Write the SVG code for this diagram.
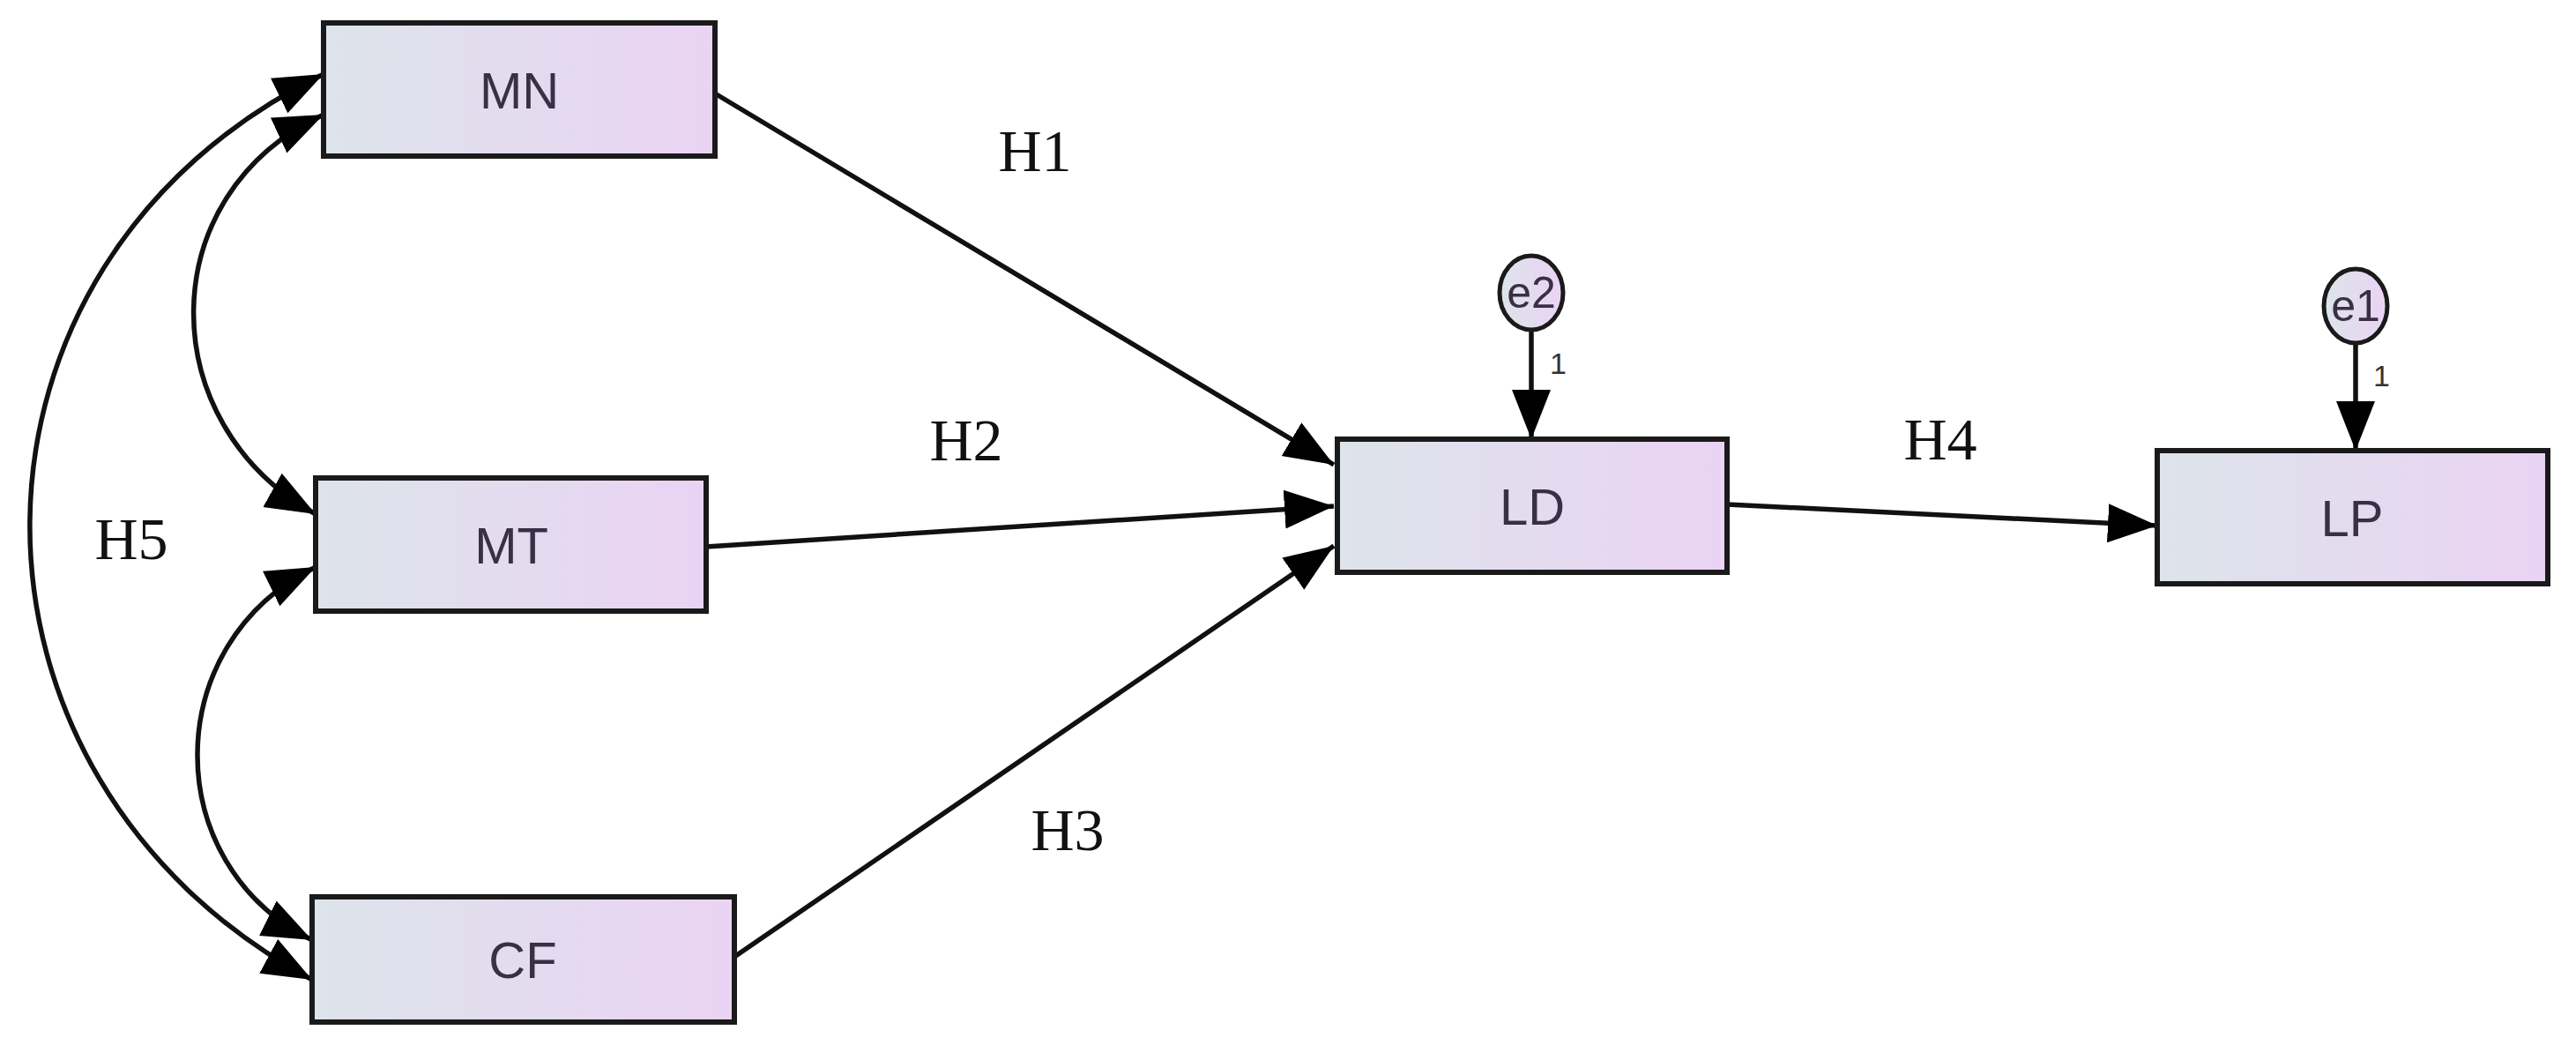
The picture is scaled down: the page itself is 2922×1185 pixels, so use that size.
<svg xmlns="http://www.w3.org/2000/svg" width="2922" height="1185" viewBox="0 0 2922 1185">
<style>
.box{stroke:#1a1a1a;stroke-width:6;fill:url(#g)}
.lbl{font-family:"Liberation Sans",Arial,sans-serif;font-size:58px;fill:#3a3045;text-anchor:middle;dominant-baseline:central}
.h{font-family:"Liberation Serif","Times New Roman",serif;font-size:68px;fill:#111;text-anchor:middle;dominant-baseline:central}
.c{fill:none;stroke:#111;stroke-width:5.5}
.e{stroke:#1a1a1a;stroke-width:5;fill:url(#g)}
.one{font-family:"Liberation Sans",Arial,sans-serif;font-size:34px;fill:#333}
</style>
<defs>
<linearGradient id="g" x1="0" x2="1" y1="0" y2="0"><stop offset="0" stop-color="#dde4ea"/><stop offset="1" stop-color="#ead3f4"/></linearGradient>
<marker id="a" markerUnits="userSpaceOnUse" markerWidth="60" markerHeight="48" refX="56" refY="22" orient="auto-start-reverse" viewBox="0 0 60 44"><path d="M0,0 L56,22 L0,44 z" fill="#000"/></marker>
</defs>
<rect width="2922" height="1185" fill="#fff"/>
<g id="connectors">
<path class="c" d="M811,106 L1513,527" marker-end="url(#a)"/>
<path class="c" d="M801,620 L1513,574" marker-end="url(#a)"/>
<path class="c" d="M833,1085 L1513,619" marker-end="url(#a)"/>
<path class="c" d="M1959,572 L2447,596" marker-end="url(#a)"/>
<path class="c" d="M1737,373 L1737,498" marker-end="url(#a)"/>
<path class="c" d="M2672,388 L2672,511" marker-end="url(#a)"/>
<path class="c" d="M367,84 C-75,300 -75,880 354,1111" marker-start="url(#a)" marker-end="url(#a)"/>
<path class="c" d="M367,130 C172,220 172,480 358,583" marker-start="url(#a)" marker-end="url(#a)"/>
<path class="c" d="M358,643 C180,730 180,980 354,1066" marker-start="url(#a)" marker-end="url(#a)"/>
<text class="h" x="1174" y="171">H1</text>
<text class="h" x="1096" y="499">H2</text>
<text class="h" x="1211" y="941">H3</text>
<text class="h" x="2201" y="498">H4</text>
<text class="h" x="149" y="611">H5</text>
<text class="one" x="1758" y="424">1</text>
<text class="one" x="2692" y="438">1</text>
</g>
<g id="MN"><rect class="box" x="367" y="26" width="444" height="151"/><text class="lbl" x="589" y="102">MN</text></g>
<g id="MT"><rect class="box" x="358" y="542" width="443" height="151"/><text class="lbl" x="580" y="618">MT</text></g>
<g id="CF"><rect class="box" x="354" y="1017" width="479" height="142"/><text class="lbl" x="593" y="1088">CF</text></g>
<g id="LD"><rect class="box" x="1517" y="498" width="442" height="151"/><text class="lbl" x="1738" y="574">LD</text></g>
<g id="LP"><rect class="box" x="2447" y="511" width="443" height="151"/><text class="lbl" x="2668" y="587">LP</text></g>
<g id="e2"><ellipse class="e" cx="1737" cy="332" rx="36" ry="42"/><text class="lbl" x="1737" y="332" style="font-size:50px">e2</text></g>
<g id="e1"><ellipse class="e" cx="2672" cy="347" rx="36" ry="42"/><text class="lbl" x="2672" y="347" style="font-size:50px">e1</text></g>
</svg>
